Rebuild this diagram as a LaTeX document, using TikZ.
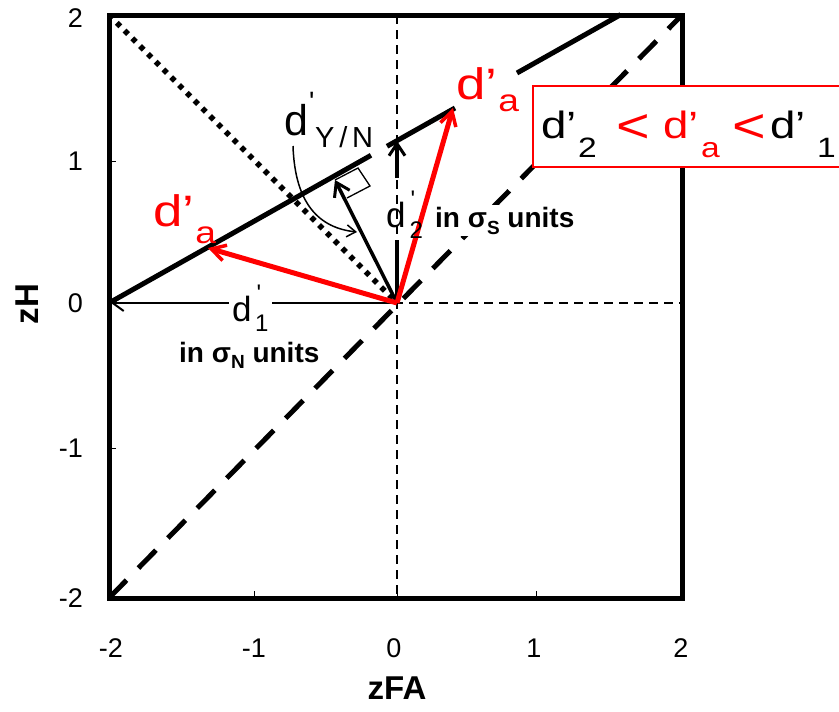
\documentclass[tikz,border=0pt]{standalone}
\usepackage{fontspec}
\setmainfont{Liberation Sans}
\newfontfamily\widefont[FakeStretch=1.2]{Liberation Sans}
\usetikzlibrary{arrows.meta}
\newcommand\fsz[1]{\fontsize{#1}{#1}\selectfont}
\begin{document}
\begin{tikzpicture}[x=1pt,y=-1pt,
  thindash/.style={line width=1.6pt, dash pattern=on 9pt off 6pt},
  framebox/.style={line width=5pt},
  critline/.style={line width=5pt},
  redarrow/.style={red, line width=5pt, -{Straight Barb[length=14pt,width=16pt,line width=3.5pt]}},
  blackarrow/.style={line width=3.5pt, -{Straight Barb[length=13pt,width=17pt,line width=3pt]}},
  ticklab/.style={font=\fsz{27}, inner sep=0pt},
  axtitle/.style={font=\bfseries\fsz{33}, inner sep=0pt},
  lab/.style={inner sep=0pt, anchor=base west},
]
\useasboundingbox (0,0) rectangle (839,712);
% key points
\coordinate (O) at (397,303);
\coordinate (TL) at (109,15);
\coordinate (BL) at (109,598);
\coordinate (TR) at (682,15);
\coordinate (BR) at (682,598);
\coordinate (VT) at (397,15);
\coordinate (VB) at (397,598);
\coordinate (HL) at (109,303);
\coordinate (HR) at (682,303);
\coordinate (C1) at (371,155.3);
\coordinate (C2) at (387,146.3);
\coordinate (C3) at (455,108.0);
\coordinate (C4) at (517,73.0);
\coordinate (C5) at (620.7,14.6);
\coordinate (L1) at (111,303);
\coordinate (V1) at (397,240);
\coordinate (V2) at (397,178);
\coordinate (V3) at (397,141);
\coordinate (F) at (335,180);
\coordinate (Ra1) at (208,248);
\coordinate (Ra2) at (453,108);
\coordinate (Q1) at (293,146);
\coordinate (Q2) at (357,232);
% grid dashes
\draw[thindash] (VT) -- (VB);
\draw[thindash] (HL) -- (HR);
% diagonals
\draw[line width=5.5pt, dash pattern=on 5pt off 6pt] (TL) -- (O);
\draw[line width=5pt, dash pattern=on 25pt off 17pt] (BL) -- (TR);
% criterion line
\draw[critline] (HL) -- (C1);
\draw[critline] (C2) -- (C3);
\draw[critline] (C4) -- (C5);
% d'1 arrow
\draw[line width=2.5pt, -{Straight Barb[length=11pt,width=16pt,line width=2pt]}] (O) -- (L1);
% d'2 arrow
\draw[line width=4pt] (O) -- (V1);
\draw[line width=4pt, -{Straight Barb[length=12pt,width=16pt,line width=3pt]}] (V2) -- (V3);
% perpendicular arrow and right angle mark
\draw[blackarrow] (O) -- (F);
\draw[line width=1.3pt] (F) -- ++(23,-12) -- ++(12,18) -- ++(-23,12);
% curved arrow
\draw[line width=1.5pt, -{Straight Barb[length=9pt,width=12pt,line width=1.5pt]}] (Q1) .. controls (295,205) and (320,228) .. (Q2);
% red arrows
\draw[redarrow] (O) -- (Ra1);
\draw[redarrow] (O) -- (Ra2);
% frame and ticks
\draw[framebox] (TL) rectangle (BR);
\foreach \tx in {254,397,536} \draw[line width=1pt] (\tx,598) -- (\tx,591);
\foreach \ty in {161,303,448} \draw[line width=1pt] (109,\ty) -- (116,\ty);
% tick labels
\node[ticklab] (xm2) at (111,648) {-2};
\node[ticklab] (xm1) at (254,648) {-1};
\node[ticklab] (x0) at (394,648) {0};
\node[ticklab] (x1) at (534,648) {1};
\node[ticklab] (x2) at (681,648) {2};
\node[ticklab, anchor=east] (y2) at (83,18) {2};
\node[ticklab, anchor=east] (y1) at (83,161) {1};
\node[ticklab, anchor=east] (y0) at (83,303) {0};
\node[ticklab, anchor=east] (ym1) at (83,448) {-1};
\node[ticklab, anchor=east] (ym2) at (83,598) {-2};
\node[axtitle] (xt) at (397,688) {zFA};
\node[axtitle, rotate=90] (yt) at (27,304) {zH};
% labels
\node[lab] (dyn) at (284,135) {{\fsz{43}d}\rlap{\hspace{1pt}\raisebox{24pt}{\fsz{28}\textquotesingle}}\hspace{7pt}\raisebox{-12pt}{\fsz{29}Y\,/\,N}};
\node[lab, fill=white, inner xsep=3pt, inner ysep=2pt] (d1) at (229,321) {{\fsz{35}d}\rlap{\hspace{5pt}\raisebox{20pt}{\fsz{24}\textquotesingle}}\hspace{3.5pt}\raisebox{-10pt}{\fsz{24}1}};
\node[lab] (d2) at (386,227) {{\fsz{35}d}\rlap{\hspace{5pt}\raisebox{20pt}{\fsz{24}\textquotesingle}}\hspace{4pt}\raisebox{-11pt}{\fsz{24}2}};
\node[lab, fill=white, inner xsep=2pt, inner ysep=2pt] (sS) at (433,227) {\bfseries\fsz{28}in σ\raisebox{-7pt}{\fsz{19}S} units};
\node[lab] (sN) at (179,362) {\bfseries\fsz{28}in σ\raisebox{-6pt}{\fsz{19}N} units};
\node[lab, text=red] (dal) at (153,226) {\widefont\fsz{44}d’\hspace{1pt}\raisebox{-17pt}{\fsz{31}a}};
\node[lab, text=red] (dau) at (456,99) {\widefont\fsz{44}d’\hspace{1pt}\raisebox{-13pt}{\fsz{31}a}};
% relation box
\draw[red, line width=1.5pt, fill=white] (533,86) rectangle (845,167);
\node[lab] (r1) at (541,138) {\widefont\fsz{38}d’};
\node[lab] (r1s) at (578,157) {\widefont\fsz{28}2};
\node[inner sep=0pt, text=red, font=\widefont\fsz{48}] (lt1) at (633,128.5) {<};
\node[lab, text=red] (r2) at (663,138) {\widefont\fsz{38}d’};
\node[lab, text=red] (r2s) at (701,157) {\widefont\fsz{28}a};
\node[inner sep=0pt, text=red, font=\widefont\fsz{48}] (lt2) at (749,128.5) {<};
\node[lab] (r3) at (770,138) {\widefont\fsz{38}d’};
\node[lab] (r3s) at (817,157) {\widefont\fsz{28}1};
\end{tikzpicture}
\end{document}
